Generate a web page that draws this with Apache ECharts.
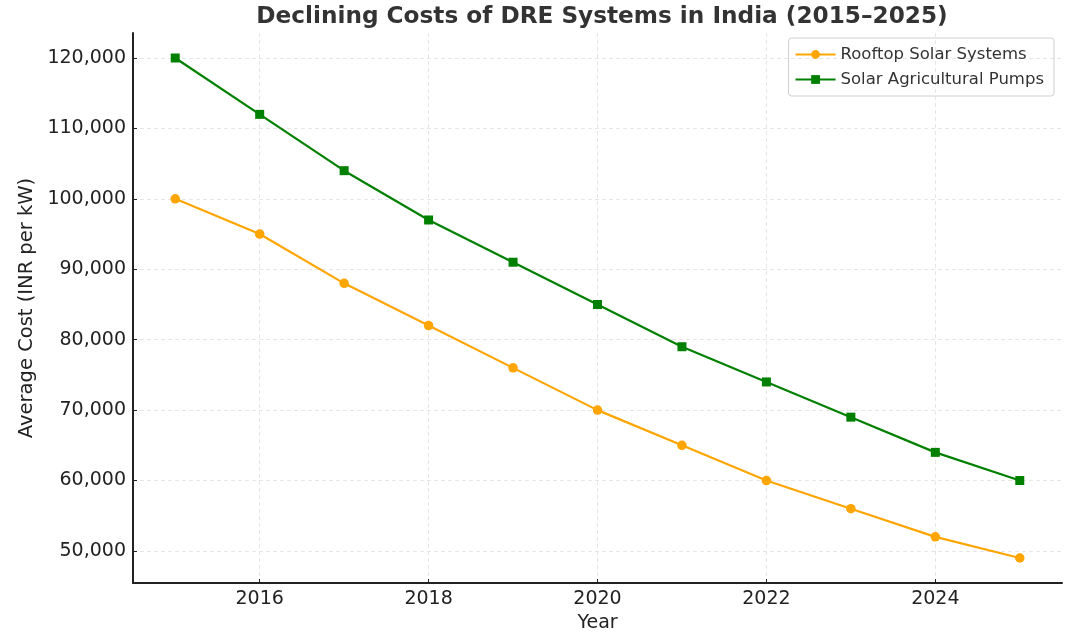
<!DOCTYPE html>
<html>
<head>
<meta charset="utf-8">
<script src="https://cdn.jsdelivr.net/npm/echarts@6/dist/echarts.min.js"></script>
<style>
  html, body { margin: 0; padding: 0; background: #fff; }
  #chart { width: 1080px; height: 638px; }
</style>
</head>
<body>
<div id="chart"></div>
<script>
// data
const years = [2015, 2016, 2017, 2018, 2019, 2020, 2021, 2022, 2023, 2024, 2025]
const rooftopCost = [100000, 95000, 88000, 82000, 76000, 70000, 65000, 60000, 56000, 52000, 49000]
const pumpCost = [120000, 112000, 104000, 97000, 91000, 85000, 79000, 74000, 69000, 64000, 60000]
const xTicks = [2016, 2018, 2020, 2022, 2024]
const yTicks = [50000, 60000, 70000, 80000, 90000, 100000, 110000, 120000]

const FONT = 'DejaVu Sans'
const TEXT = '#222'

const chart = echarts.init(document.getElementById('chart'))

const option = {
    backgroundColor: '#fff',
    animation: false,
    textStyle: { fontFamily: FONT },
    title: {
        text: 'Declining Costs of DRE Systems in India (2015\u20132025)',
        left: 597,
        textAlign: 'center',
        top: 0,
        textStyle: { fontFamily: FONT, fontSize: 23.2, fontWeight: 'bold', color: '#333' },
    },
    legend: {
        right: 26,
        top: 38,
        orient: 'vertical',
        itemGap: 8,
        itemWidth: 40,
        itemHeight: 11,
        padding: [8, 10, 8, 6],
        borderColor: '#d0d0d0',
        borderWidth: 1,
        borderRadius: 3,
        textStyle: { fontFamily: FONT, fontSize: 16.5, color: '#333' },
        data: ['Rooftop Solar Systems', 'Solar Agricultural Pumps'],
    },
    grid: { left: 133, right: 18, top: 33, bottom: 53, containLabel: false },
    xAxis: {
        type: 'value',
        min: 2014.5,
        max: 2025.5,
        name: 'Year',
        nameLocation: 'middle',
        nameGap: 31,
        nameTextStyle: { fontFamily: FONT, fontSize: 19, color: TEXT },
        axisLine: { show: true, lineStyle: { color: '#222', width: 2 } },
        axisTick: { show: true, inside: true, length: 4, customValues: xTicks, lineStyle: { color: '#222' } },
        axisLabel: {
            customValues: xTicks,
            fontSize: 19,
            color: TEXT,
            margin: 7,
            formatter: v => String(v),
        },
        splitLine: { show: true, lineStyle: { color: '#e6e6e6', type: [4, 3], width: 1 } },
    },
    yAxis: {
        type: 'value',
        min: 45450,
        max: 123550,
        name: 'Average Cost (INR per kW)',
        nameLocation: 'middle',
        nameGap: 94,
        nameTextStyle: { fontFamily: FONT, fontSize: 19.5, color: TEXT },
        axisLine: { show: true, lineStyle: { color: '#222', width: 2 } },
        axisTick: { show: true, inside: true, length: 4, customValues: yTicks, lineStyle: { color: '#222' } },
        axisLabel: {
            customValues: yTicks,
            fontSize: 19,
            color: TEXT,
            margin: 7,
            formatter: v => v.toLocaleString('en-US'),
        },
        splitLine: { show: true, lineStyle: { color: '#e6e6e6', type: [4, 3], width: 1 } },
    },
    series: [
        {
            name: 'Rooftop Solar Systems',
            type: 'line',
            data: years.map((y, i) => [y, rooftopCost[i]]),
            symbol: 'circle',
            symbolSize: 9.5,
            lineStyle: { color: '#FFA500', width: 2.2 },
            itemStyle: { color: '#FFA500' },
        },
        {
            name: 'Solar Agricultural Pumps',
            type: 'line',
            data: years.map((y, i) => [y, pumpCost[i]]),
            symbol: 'rect',
            symbolSize: 9,
            lineStyle: { color: '#008000', width: 2.2 },
            itemStyle: { color: '#008000' },
        },
    ],
}

chart.setOption(option)
</script>
</body>
</html>
